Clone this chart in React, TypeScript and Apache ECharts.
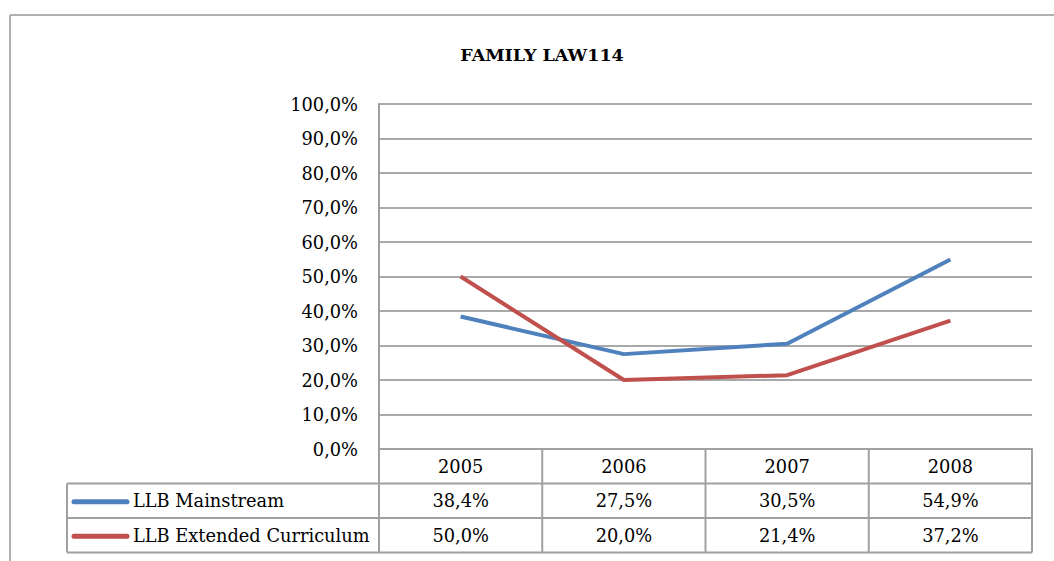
import React, { useEffect, useRef } from "react";
import * as echarts from "echarts";

const title = "FAMILY LAW114";
const years = ["2005", "2006", "2007", "2008"];
const seriesNames = ["LLB Mainstream", "LLB Extended Curriculum"];
const mainstream = [38.4, 27.5, 30.5, 54.9];
const extended = [50.0, 20.0, 21.4, 37.2];
const colors = ["#4F81BD", "#C0504D"];

const FONT = "DejaVu Serif";
const FS = 17.8;
const fmt = (v: number) => v.toFixed(1).replace(".", ",") + "%";

export default function App() {
  const ref = useRef<HTMLDivElement>(null);
  useEffect(() => {
    if (!ref.current) return;
    const chart = echarts.init(ref.current, null, { renderer: "svg" });
    const gL = 379, gT = 104, gW = 653, gH = 345;
    const gR = gL + gW, gB = gT + gH;
    const rowH = 34.5;
    const colW = gW / years.length;
    const tableL = 67;
    const border = "#a0a0a0";
    const lineStyle = { stroke: border, lineWidth: 2 };
    const graphics: any[] = [];
    graphics.push({ type: "line", shape: { x1: 10, y1: 15, x2: 1054, y2: 15 }, style: { stroke: "#b0b0b0", lineWidth: 2 } });
    graphics.push({ type: "line", shape: { x1: 10, y1: 15, x2: 10, y2: 561 }, style: { stroke: "#b0b0b0", lineWidth: 2 } });
    for (let r = 1; r <= 3; r++) {
      const y = gB + r * rowH;
      graphics.push({ type: "line", shape: { x1: tableL, y1: y, x2: gR, y2: y }, style: lineStyle });
    }
    graphics.push({ type: "line", shape: { x1: tableL, y1: gB + rowH, x2: tableL, y2: gB + 3 * rowH }, style: lineStyle });
    for (let c = 0; c <= years.length; c++) {
      const x = gL + c * colW;
      graphics.push({ type: "line", shape: { x1: x, y1: gB, x2: x, y2: gB + 3 * rowH }, style: lineStyle });
    }
    const rows = [mainstream, extended];
    rows.forEach((vals, r) => {
      const cy = gB + (r + 1.5) * rowH;
      graphics.push({ type: "line", shape: { x1: 74, y1: cy + 1, x2: 127, y2: cy + 1 }, style: { stroke: colors[r], lineWidth: 5, lineCap: "round" } });
      graphics.push({ type: "text", x: 133, y: cy, style: { text: seriesNames[r], font: `${FS}px "${FONT}"`, fill: "#000", verticalAlign: "middle" } });
      vals.forEach((v, c) => {
        graphics.push({ type: "text", x: gL + (c + 0.5) * colW, y: cy, style: { text: fmt(v), font: `${FS}px "${FONT}"`, fill: "#000", align: "center", verticalAlign: "middle" } });
      });
    });

    chart.setOption({
      animation: false,
      backgroundColor: "#fff",
      title: {
        text: title,
        left: 537,
        top: 41,
        textAlign: "center",
        textStyle: { fontFamily: FONT, fontWeight: "bold", fontSize: 17.5, color: "#000" },
      },
      grid: { left: gL, top: gT, width: gW, height: gH, containLabel: false },
      xAxis: {
        type: "category",
        data: years,
        boundaryGap: true,
        axisLine: { show: true, lineStyle: { color: border, width: 2 } },
        axisTick: { show: false },
        axisLabel: { margin: 8, fontFamily: FONT, fontSize: FS, color: "#000" },
      },
      yAxis: {
        type: "value",
        min: 0,
        max: 100,
        interval: 10,
        axisLine: { show: true, lineStyle: { color: border, width: 2 } },
        axisTick: { show: false },
        splitLine: { lineStyle: { color: "#8c8c8c", width: 1.5 } },
        axisLabel: { margin: 21, fontFamily: FONT, fontSize: FS, color: "#000", formatter: (v: number) => fmt(v) },
      },
      series: [
        { name: seriesNames[0], type: "line", data: mainstream, symbol: "none", lineStyle: { color: colors[0], width: 4 }, itemStyle: { color: colors[0] } },
        { name: seriesNames[1], type: "line", data: extended, symbol: "none", lineStyle: { color: colors[1], width: 4 }, itemStyle: { color: colors[1] } },
      ],
      graphic: graphics,
    });
    return () => chart.dispose();
  }, []);
  return <div ref={ref} style={{ position: "absolute", left: 0, top: 0, width: 1054, height: 561 }} />;
}
